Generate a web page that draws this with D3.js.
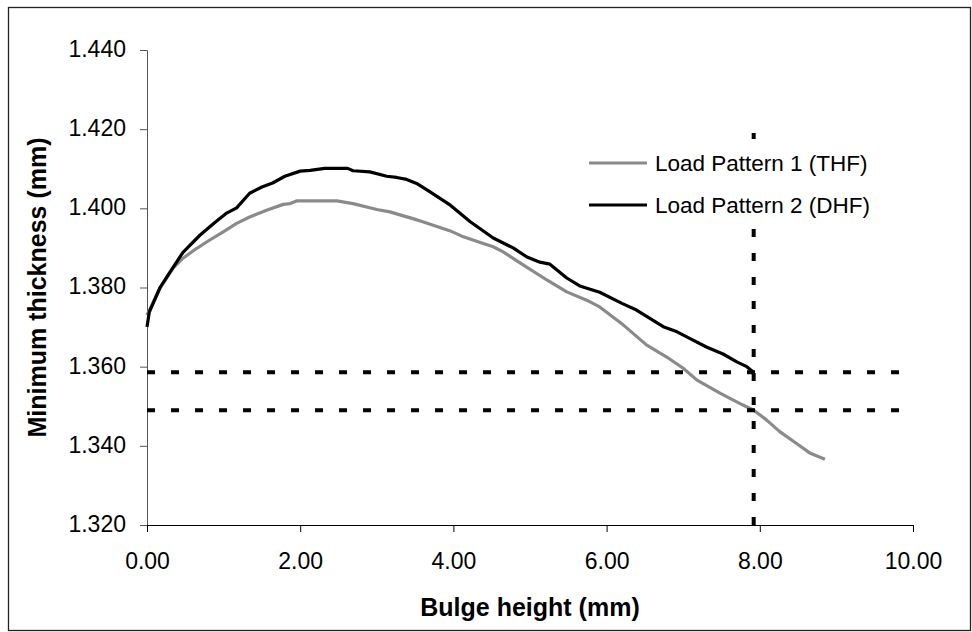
<!doctype html>
<html>
<head>
  <title>Minimum thickness vs bulge height</title>
  <style>
    body { margin: 0; background: #fff; }
    svg { display: block; font-family: Arial, "Liberation Sans", sans-serif; }
  </style>
</head>
<body>
  <svg></svg>
  <script src="https://cdnjs.cloudflare.com/ajax/libs/d3/7.8.5/d3.min.js"></script>
  <script>
  // series: bulge height (mm) / minimum thickness (mm)
  var thfX = [0, 0.17, 0.34, 0.47, 0.65, 0.82, 0.99, 1.17, 1.34, 1.56, 1.78, 1.87, 1.96, 2.48, 2.69, 3.00, 3.17, 3.47, 3.60, 3.96,
    4.13, 4.39, 4.52, 4.65, 4.91, 5.22, 5.48, 5.74, 5.91, 6.22, 6.52, 6.78, 7.00, 7.18, 7.48, 7.78, 7.92, 8.09, 8.26, 8.48, 8.66, 8.85];
  var thfY = [1.3730, 1.3798, 1.3849, 1.3874, 1.3899, 1.3920, 1.3940, 1.3962, 1.3978, 1.3995, 1.4010, 1.4012, 1.4019, 1.4019, 1.4012,
    1.3997, 1.3991, 1.3974, 1.3966, 1.3943, 1.3928, 1.3911, 1.3903, 1.3890, 1.3857, 1.3819, 1.3789, 1.3768, 1.3751, 1.3705,
    1.3655, 1.3625, 1.3596, 1.3566, 1.3533, 1.3503, 1.3490, 1.3465, 1.3436, 1.3406, 1.3381, 1.3366];

  var dhfX = [0, 0.03, 0.17, 0.30, 0.47, 0.69, 0.89, 1.04, 1.17, 1.34, 1.50, 1.64, 1.80, 2.00, 2.13, 2.32, 2.62, 2.69, 2.91, 3.13,
    3.26, 3.39, 3.52, 3.69, 3.96, 4.22, 4.52, 4.78, 4.96, 5.13, 5.26, 5.48, 5.65, 5.91, 6.20, 6.39, 6.74, 6.92, 7.09, 7.31,
    7.52, 7.70, 7.83, 7.91];
  var dhfY = [1.3700, 1.3738, 1.3800, 1.3839, 1.3889, 1.3932, 1.3965, 1.3988, 1.4001, 1.4038, 1.4054, 1.4064, 1.4081, 1.4094,
    1.4096, 1.4101, 1.4101, 1.4095, 1.4092, 1.4081, 1.4078, 1.4073, 1.4063, 1.4042, 1.4008, 1.3966, 1.3925, 1.3900, 1.3877,
    1.3864, 1.3859, 1.3824, 1.3804, 1.3788, 1.3760, 1.3743, 1.3701, 1.3688, 1.3671, 1.3649, 1.3632, 1.3612, 1.3600, 1.3587];

  // dotted guide lines
  var guideLevels = [1.3586, 1.3490];
  var guideXEnd = 9.82;
  var guideBulge = 7.92;
  var guideTop = 1.42;

  var seriesNames = ["Load Pattern 1 (THF)", "Load Pattern 2 (DHF)"];
  var seriesColors = ["#8a8a8a", "#000000"];

  var xTicks = [0, 2, 4, 6, 8, 10];
  var yTicks = [1.32, 1.34, 1.36, 1.38, 1.40, 1.42, 1.44];

  var width = 972, height = 632;
  var margin = { top: 50, right: 59, bottom: 107, left: 147 };

  var svg = d3.select("svg")
    .attr("width", width)
    .attr("height", height);

  // outer chart border
  svg.append("rect")
    .attr("x", 8.5).attr("y", 7.5)
    .attr("width", 962).attr("height", 623)
    .attr("fill", "none")
    .attr("stroke", "#222")
    .attr("stroke-width", 1.3);

  var x = d3.scaleLinear().domain([0, 10]).range([margin.left, width - margin.right]);
  var y = d3.scaleLinear().domain([1.32, 1.44]).range([height - margin.bottom, margin.top]);

  var yAxis = svg.append("g")
    .attr("transform", "translate(" + margin.left + ",0)")
    .call(d3.axisLeft(y).tickValues(yTicks).tickFormat(d3.format(".3f")).tickSize(7).tickPadding(14));
  yAxis.selectAll("path, line").attr("stroke", "#555");
  yAxis.selectAll("text").attr("font-size", 23).attr("fill", "#000").attr("font-family", null).attr("dy", "0.28em");

  var xAxis = svg.append("g")
    .attr("transform", "translate(0," + (height - margin.bottom) + ")")
    .call(d3.axisBottom(x).tickValues(xTicks).tickFormat(d3.format(".2f")).tickSize(7).tickPadding(21));
  xAxis.selectAll("path, line").attr("stroke", "#000");
  xAxis.selectAll("text").attr("font-size", 23).attr("fill", "#000").attr("font-family", null);

  // axis titles
  svg.append("text")
    .attr("x", (x(0) + x(10)) / 2)
    .attr("y", 616)
    .attr("text-anchor", "middle")
    .attr("font-size", 25)
    .attr("font-weight", "bold")
    .text("Bulge height (mm)");

  svg.append("text")
    .attr("transform", "translate(46," + ((y(1.32) + y(1.44)) / 2) + ") rotate(-90)")
    .attr("text-anchor", "middle")
    .attr("font-size", 25)
    .attr("font-weight", "bold")
    .text("Minimum thickness (mm)");

  var line = d3.line()
    .x(function(d) { return x(d[0]); })
    .y(function(d) { return y(d[1]); });

  var series = [d3.zip(thfX, thfY), d3.zip(dhfX, dhfY)];

  svg.append("g").selectAll("path")
    .data(series)
    .enter().append("path")
    .attr("d", line)
    .attr("fill", "none")
    .attr("stroke", function(d, i) { return seriesColors[i]; })
    .attr("stroke-width", 3.2)
    .attr("stroke-linejoin", "round");

  // dotted guides
  var guides = svg.append("g")
    .attr("stroke", "#000")
    .attr("stroke-width", 4)
    .attr("stroke-dasharray", "8,16");

  guides.selectAll("line.h")
    .data(guideLevels)
    .enter().append("line")
    .attr("class", "h")
    .attr("x1", x(0)).attr("x2", x(guideXEnd))
    .attr("y1", function(d) { return y(d); })
    .attr("y2", function(d) { return y(d); });

  guides.append("line")
    .attr("x1", x(guideBulge)).attr("x2", x(guideBulge))
    .attr("y1", y(1.32)).attr("y2", y(guideTop));

  // legend (opaque, sits over the vertical guide)
  var legend = svg.append("g");
  legend.append("rect")
    .attr("x", 578).attr("y", 139)
    .attr("width", 330).attr("height", 86)
    .attr("fill", "#fff");

  var rows = legend.selectAll("g.row")
    .data(seriesNames)
    .enter().append("g")
    .attr("class", "row")
    .attr("transform", function(d, i) { return "translate(589," + (163 + i * 42) + ")"; });

  rows.append("line")
    .attr("x1", 0).attr("x2", 58)
    .attr("stroke", function(d, i) { return seriesColors[i]; })
    .attr("stroke-width", 3.2);

  rows.append("text")
    .attr("x", 66)
    .attr("y", 8)
    .attr("font-size", 22.5)
    .text(function(d) { return d; });
  </script>
</body>
</html>
